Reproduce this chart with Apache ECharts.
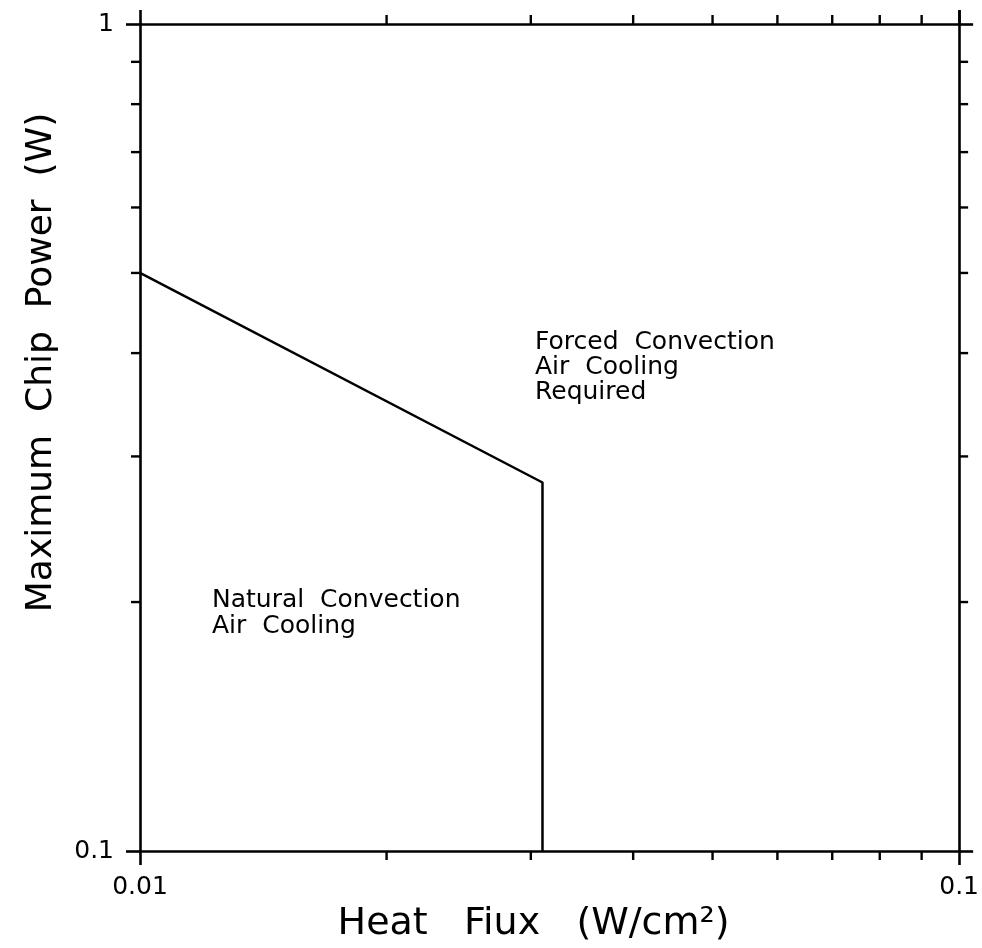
<!DOCTYPE html>
<html>
<head>
<meta charset="utf-8">
<script src="https://cdn.jsdelivr.net/npm/echarts@6/dist/echarts.min.js"></script>
<style>html,body{margin:0;padding:0;background:#fff}#c{width:982px;height:948px}</style>
</head>
<body>
<div id="c"></div>
<script>
// Data
const boundaryFlux = [0.01, 0.031, 0.031];      // W/cm^2
const boundaryPower = [0.5, 0.279, 0.1];         // W
const xMinorTicks = [0.02, 0.03, 0.04, 0.05, 0.06, 0.07, 0.08, 0.09];
const yMinorTicks = [0.2, 0.3, 0.4, 0.5, 0.6, 0.7, 0.8, 0.9];
const xRange = [0.01, 0.1];
const yRange = [0.1, 1];
const regionLabels = ['Natural  Convection\nAir  Cooling', 'Forced  Convection\nAir  Cooling\nRequired'];

const FONT = 'DejaVu Sans';
const chart = echarts.init(document.getElementById('c'), null, {renderer: 'canvas'});

const axisCommon = {
  type: 'log', logBase: 10,
  axisLine: {show: true, lineStyle: {color: '#000', width: 2.6}},
  axisTick: {show: true, inside: false, length: 14, lineStyle: {color: '#000', width: 2.6}},
  splitLine: {show: false}, minorTick: {show: false}, minorSplitLine: {show: false}
};

function tickSeries(data, isX) {
  return {
    type: 'custom',
    xAxisIndex: 0, yAxisIndex: 0,
    clip: false, silent: true,
    data: data,
    renderItem: function (params, api) {
      const cs = params.coordSys;
      const p = api.coord([api.value(0), api.value(1)]);
      const L = 9;
      const st = {stroke: '#000', lineWidth: 2.4};
      if (isX) {
        return {type: 'group', children: [
          {type: 'line', shape: {x1: p[0], y1: cs.y, x2: p[0], y2: cs.y - L}, style: st},
          {type: 'line', shape: {x1: p[0], y1: cs.y + cs.height, x2: p[0], y2: cs.y + cs.height + L}, style: st}
        ]};
      }
      return {type: 'group', children: [
        {type: 'line', shape: {x1: cs.x, y1: p[1], x2: cs.x - L, y2: p[1]}, style: st},
        {type: 'line', shape: {x1: cs.x + cs.width, y1: p[1], x2: cs.x + cs.width + L, y2: p[1]}, style: st}
      ]};
    }
  };
}

chart.setOption({
  animation: false,
  backgroundColor: '#fff',
  grid: {left: 140, right: 22, top: 24, bottom: 97, containLabel: false},
  xAxis: [
    Object.assign({}, axisCommon, {
      position: 'bottom', min: xRange[0], max: xRange[1],
      axisLabel: {show: true, color: '#000', fontFamily: FONT, fontSize: 25, margin: 24},
      name: 'Heat   Fiux   (W/cm²)', nameLocation: 'middle', nameGap: 46,
      nameTextStyle: {color: '#000', fontFamily: FONT, fontSize: 38, padding: [0, 32, 0, 0]}
    }),
    Object.assign({}, axisCommon, {
      position: 'top', min: xRange[0], max: xRange[1],
      axisLabel: {show: false}
    })
  ],
  yAxis: [
    Object.assign({}, axisCommon, {
      position: 'left', min: yRange[0], max: yRange[1],
      axisLabel: {show: true, color: '#000', fontFamily: FONT, fontSize: 25, margin: 26},
      name: 'Maximum  Chip  Power  (W)', nameLocation: 'middle', nameGap: 80,
      nameTextStyle: {color: '#000', fontFamily: FONT, fontSize: 36, padding: [0, 0, 0, 150]}
    }),
    Object.assign({}, axisCommon, {
      position: 'right', min: yRange[0], max: yRange[1],
      axisLabel: {show: false}
    })
  ],
  series: [
    {
      type: 'line', xAxisIndex: 0, yAxisIndex: 0,
      data: boundaryFlux.map((x, i) => [x, boundaryPower[i]]),
      symbol: 'none', lineStyle: {color: '#000', width: 2.5}, silent: true
    },
    tickSeries(xMinorTicks.map(v => [v, 0.5]), true),
    tickSeries(yMinorTicks.map(v => [0.05, v]), false)
  ],
  graphic: [
    {type: 'text', left: 212, top: 587, style: {text: regionLabels[0], font: '25px "DejaVu Sans"', fill: '#000', lineHeight: 26}},
    {type: 'text', left: 535, top: 330, style: {text: regionLabels[1], font: '25px "DejaVu Sans"', fill: '#000', lineHeight: 25}}
  ]
});
</script>
</body>
</html>
